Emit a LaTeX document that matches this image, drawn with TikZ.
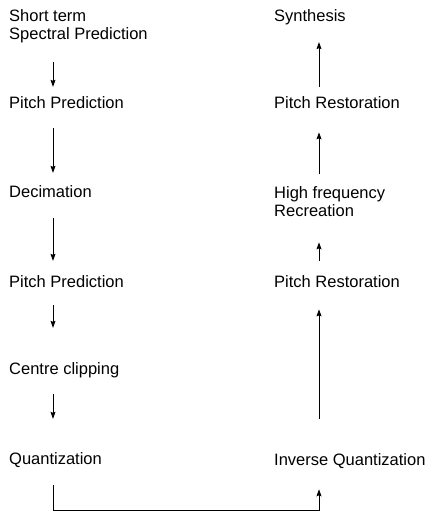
\documentclass[tikz,border=0pt]{standalone}
\usepackage{fontspec}
\setmainfont{Liberation Sans}
\usetikzlibrary{arrows.meta}

\tikzset{
    stage/.style={anchor=base west, inner sep=0pt, align=left,
        font=\fontsize{16.5}{18}\selectfont},
    flow/.style={line width=0.8pt, -{Stealth[length=7pt, width=5pt, inset=1pt]}}
}

\begin{document}
\begin{tikzpicture}[x=1pt, y=-1pt]
    \useasboundingbox (0,0) rectangle (428,512);

    % 1. Arrow columns
    \coordinate (lx) at (53,0);
    \coordinate (rx) at (319,0);
    \coordinate (bot) at (0,510);

    % 2. Analysis chain (left)
    \node[stage] (spec)  at (9,39)  {Short term\\Spectral Prediction};
    \node[stage] (pp1)   at (9,108) {Pitch Prediction};
    \node[stage] (dec)   at (9,197) {Decimation};
    \node[stage] (pp2)   at (9,287) {Pitch Prediction};
    \node[stage] (clip)  at (9,374) {Centre clipping};
    \node[stage] (quant) at (9,464) {Quantization};

    % 3. Synthesis chain (right)
    \node[stage] (synth) at (274,21)  {Synthesis};
    \node[stage] (prs1)  at (274,108) {Pitch Restoration};
    \node[stage] (hfr)   at (274,216) {High frequency\\Recreation};
    \node[stage] (prs2)  at (274,287) {Pitch Restoration};
    \node[stage] (invq)  at (274,465) {Inverse Quantization};

    % 4. Downward arrows
    \draw[flow, shorten <=19.5pt, shorten >=9pt]  (spec.south -| lx) -- (pp1.north -| lx);
    \draw[flow, shorten <=20pt, shorten >=12pt]   (pp1.south -| lx)  -- (dec.north -| lx);
    \draw[flow, shorten <=21pt, shorten >=14pt]   (dec.south -| lx)  -- (pp2.north -| lx);
    \draw[flow, shorten <=18pt, shorten >=34pt]   (pp2.south -| lx)  -- (clip.north -| lx);
    \draw[flow, shorten <=16.5pt, shorten >=33pt] (clip.south -| lx) -- (quant.north -| lx);

    % 5. Link across the bottom
    \draw[flow, shorten <=18pt, shorten >=21pt]
        (quant.south -| lx) -- (bot -| lx) -- (bot -| rx) -- (invq.south -| rx);

    % 6. Upward arrows
    \draw[flow, shorten <=34pt, shorten >=22pt] (invq.north -| rx) -- (prs2.south -| rx);
    \draw[flow, shorten <=14pt, shorten >=26pt] (prs2.north -| rx) -- (hfr.south -| rx);
    \draw[flow, shorten <=12pt, shorten >=24pt] (hfr.north -| rx)  -- (prs1.south -| rx);
    \draw[flow, shorten <=9pt, shorten >=17.5pt] (prs1.north -| rx) -- (synth.south -| rx);

\end{tikzpicture}
\end{document}
